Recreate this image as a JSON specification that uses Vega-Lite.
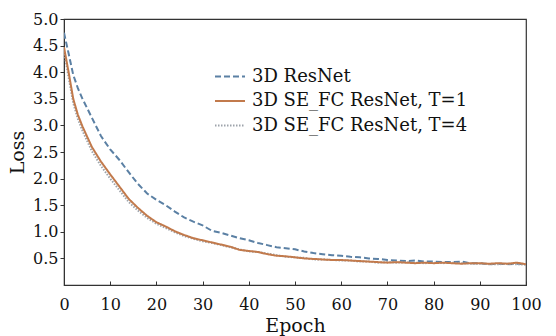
{
  "$schema": "https://vega.github.io/schema/vega-lite/v6.json",
  "width": 462,
  "height": 266,
  "autosize": {"type": "none"},
  "padding": {"left": 64, "top": 19, "right": 30, "bottom": 51},
  "background": "white",
  "config": {
    "font": "DejaVu Serif",
    "view": {"stroke": "#333333", "strokeWidth": 1.2},
    "axis": {"domainColor": "#333333", "tickColor": "#333333", "labelColor": "#111111", "titleColor": "#111111", "labelFont": "DejaVu Serif", "titleFont": "DejaVu Serif", "labelFontSize": 16, "titleFontSize": 19, "titleFontWeight": "normal", "grid": false, "labelFlush": false}
  },
  "datasets": {
    "loss": [
      {"epoch": 0, "s": "3D ResNet", "loss": 4.74},
      {"epoch": 1, "s": "3D ResNet", "loss": 4.35},
      {"epoch": 2, "s": "3D ResNet", "loss": 3.95},
      {"epoch": 3, "s": "3D ResNet", "loss": 3.7},
      {"epoch": 4, "s": "3D ResNet", "loss": 3.5},
      {"epoch": 6, "s": "3D ResNet", "loss": 3.15},
      {"epoch": 8, "s": "3D ResNet", "loss": 2.8},
      {"epoch": 10, "s": "3D ResNet", "loss": 2.55},
      {"epoch": 12, "s": "3D ResNet", "loss": 2.35},
      {"epoch": 14, "s": "3D ResNet", "loss": 2.12},
      {"epoch": 16, "s": "3D ResNet", "loss": 1.9},
      {"epoch": 18, "s": "3D ResNet", "loss": 1.72},
      {"epoch": 20, "s": "3D ResNet", "loss": 1.6},
      {"epoch": 22, "s": "3D ResNet", "loss": 1.5},
      {"epoch": 24, "s": "3D ResNet", "loss": 1.38},
      {"epoch": 26, "s": "3D ResNet", "loss": 1.27},
      {"epoch": 28, "s": "3D ResNet", "loss": 1.19},
      {"epoch": 30, "s": "3D ResNet", "loss": 1.12},
      {"epoch": 32, "s": "3D ResNet", "loss": 1.02},
      {"epoch": 34, "s": "3D ResNet", "loss": 0.98},
      {"epoch": 36, "s": "3D ResNet", "loss": 0.93},
      {"epoch": 38, "s": "3D ResNet", "loss": 0.88},
      {"epoch": 40, "s": "3D ResNet", "loss": 0.84},
      {"epoch": 42, "s": "3D ResNet", "loss": 0.79},
      {"epoch": 44, "s": "3D ResNet", "loss": 0.75},
      {"epoch": 46, "s": "3D ResNet", "loss": 0.71},
      {"epoch": 48, "s": "3D ResNet", "loss": 0.69},
      {"epoch": 50, "s": "3D ResNet", "loss": 0.67},
      {"epoch": 52, "s": "3D ResNet", "loss": 0.63},
      {"epoch": 54, "s": "3D ResNet", "loss": 0.6},
      {"epoch": 56, "s": "3D ResNet", "loss": 0.58},
      {"epoch": 58, "s": "3D ResNet", "loss": 0.56},
      {"epoch": 60, "s": "3D ResNet", "loss": 0.55},
      {"epoch": 62, "s": "3D ResNet", "loss": 0.53},
      {"epoch": 64, "s": "3D ResNet", "loss": 0.52},
      {"epoch": 66, "s": "3D ResNet", "loss": 0.5},
      {"epoch": 68, "s": "3D ResNet", "loss": 0.49},
      {"epoch": 70, "s": "3D ResNet", "loss": 0.47},
      {"epoch": 72, "s": "3D ResNet", "loss": 0.46},
      {"epoch": 74, "s": "3D ResNet", "loss": 0.45},
      {"epoch": 76, "s": "3D ResNet", "loss": 0.46},
      {"epoch": 78, "s": "3D ResNet", "loss": 0.44},
      {"epoch": 80, "s": "3D ResNet", "loss": 0.44},
      {"epoch": 82, "s": "3D ResNet", "loss": 0.43},
      {"epoch": 84, "s": "3D ResNet", "loss": 0.43},
      {"epoch": 86, "s": "3D ResNet", "loss": 0.44},
      {"epoch": 88, "s": "3D ResNet", "loss": 0.41},
      {"epoch": 90, "s": "3D ResNet", "loss": 0.41},
      {"epoch": 92, "s": "3D ResNet", "loss": 0.39},
      {"epoch": 94, "s": "3D ResNet", "loss": 0.4},
      {"epoch": 96, "s": "3D ResNet", "loss": 0.39},
      {"epoch": 98, "s": "3D ResNet", "loss": 0.4},
      {"epoch": 100, "s": "3D ResNet", "loss": 0.39},

      {"epoch": 0, "s": "3D SE_FC ResNet, T=4", "loss": 4.4},
      {"epoch": 1, "s": "3D SE_FC ResNet, T=4", "loss": 3.9},
      {"epoch": 2, "s": "3D SE_FC ResNet, T=4", "loss": 3.42},
      {"epoch": 3, "s": "3D SE_FC ResNet, T=4", "loss": 3.12},
      {"epoch": 4, "s": "3D SE_FC ResNet, T=4", "loss": 2.9},
      {"epoch": 6, "s": "3D SE_FC ResNet, T=4", "loss": 2.52},
      {"epoch": 8, "s": "3D SE_FC ResNet, T=4", "loss": 2.24},
      {"epoch": 10, "s": "3D SE_FC ResNet, T=4", "loss": 2.0},
      {"epoch": 12, "s": "3D SE_FC ResNet, T=4", "loss": 1.78},
      {"epoch": 14, "s": "3D SE_FC ResNet, T=4", "loss": 1.56},
      {"epoch": 16, "s": "3D SE_FC ResNet, T=4", "loss": 1.4},
      {"epoch": 18, "s": "3D SE_FC ResNet, T=4", "loss": 1.26},
      {"epoch": 20, "s": "3D SE_FC ResNet, T=4", "loss": 1.15},
      {"epoch": 22, "s": "3D SE_FC ResNet, T=4", "loss": 1.07},
      {"epoch": 24, "s": "3D SE_FC ResNet, T=4", "loss": 0.99},
      {"epoch": 26, "s": "3D SE_FC ResNet, T=4", "loss": 0.92},
      {"epoch": 28, "s": "3D SE_FC ResNet, T=4", "loss": 0.87},
      {"epoch": 30, "s": "3D SE_FC ResNet, T=4", "loss": 0.82},
      {"epoch": 32, "s": "3D SE_FC ResNet, T=4", "loss": 0.79},
      {"epoch": 34, "s": "3D SE_FC ResNet, T=4", "loss": 0.75},
      {"epoch": 36, "s": "3D SE_FC ResNet, T=4", "loss": 0.71},
      {"epoch": 38, "s": "3D SE_FC ResNet, T=4", "loss": 0.67},
      {"epoch": 40, "s": "3D SE_FC ResNet, T=4", "loss": 0.63},
      {"epoch": 42, "s": "3D SE_FC ResNet, T=4", "loss": 0.62},
      {"epoch": 44, "s": "3D SE_FC ResNet, T=4", "loss": 0.59},
      {"epoch": 46, "s": "3D SE_FC ResNet, T=4", "loss": 0.56},
      {"epoch": 48, "s": "3D SE_FC ResNet, T=4", "loss": 0.53},
      {"epoch": 50, "s": "3D SE_FC ResNet, T=4", "loss": 0.52},
      {"epoch": 52, "s": "3D SE_FC ResNet, T=4", "loss": 0.51},
      {"epoch": 54, "s": "3D SE_FC ResNet, T=4", "loss": 0.48},
      {"epoch": 56, "s": "3D SE_FC ResNet, T=4", "loss": 0.48},
      {"epoch": 58, "s": "3D SE_FC ResNet, T=4", "loss": 0.47},
      {"epoch": 60, "s": "3D SE_FC ResNet, T=4", "loss": 0.46},
      {"epoch": 62, "s": "3D SE_FC ResNet, T=4", "loss": 0.46},
      {"epoch": 64, "s": "3D SE_FC ResNet, T=4", "loss": 0.44},
      {"epoch": 66, "s": "3D SE_FC ResNet, T=4", "loss": 0.44},
      {"epoch": 68, "s": "3D SE_FC ResNet, T=4", "loss": 0.42},
      {"epoch": 70, "s": "3D SE_FC ResNet, T=4", "loss": 0.43},
      {"epoch": 72, "s": "3D SE_FC ResNet, T=4", "loss": 0.42},
      {"epoch": 74, "s": "3D SE_FC ResNet, T=4", "loss": 0.43},
      {"epoch": 76, "s": "3D SE_FC ResNet, T=4", "loss": 0.42},
      {"epoch": 78, "s": "3D SE_FC ResNet, T=4", "loss": 0.41},
      {"epoch": 80, "s": "3D SE_FC ResNet, T=4", "loss": 0.42},
      {"epoch": 82, "s": "3D SE_FC ResNet, T=4", "loss": 0.41},
      {"epoch": 84, "s": "3D SE_FC ResNet, T=4", "loss": 0.42},
      {"epoch": 86, "s": "3D SE_FC ResNet, T=4", "loss": 0.41},
      {"epoch": 88, "s": "3D SE_FC ResNet, T=4", "loss": 0.4},
      {"epoch": 90, "s": "3D SE_FC ResNet, T=4", "loss": 0.4},
      {"epoch": 92, "s": "3D SE_FC ResNet, T=4", "loss": 0.39},
      {"epoch": 94, "s": "3D SE_FC ResNet, T=4", "loss": 0.39},
      {"epoch": 96, "s": "3D SE_FC ResNet, T=4", "loss": 0.4},
      {"epoch": 98, "s": "3D SE_FC ResNet, T=4", "loss": 0.39},
      {"epoch": 100, "s": "3D SE_FC ResNet, T=4", "loss": 0.38},

      {"epoch": 0, "s": "3D SE_FC ResNet, T=1", "loss": 4.47},
      {"epoch": 1, "s": "3D SE_FC ResNet, T=1", "loss": 4.0},
      {"epoch": 2, "s": "3D SE_FC ResNet, T=1", "loss": 3.5},
      {"epoch": 3, "s": "3D SE_FC ResNet, T=1", "loss": 3.2},
      {"epoch": 4, "s": "3D SE_FC ResNet, T=1", "loss": 2.98},
      {"epoch": 6, "s": "3D SE_FC ResNet, T=1", "loss": 2.6},
      {"epoch": 8, "s": "3D SE_FC ResNet, T=1", "loss": 2.32},
      {"epoch": 10, "s": "3D SE_FC ResNet, T=1", "loss": 2.08},
      {"epoch": 12, "s": "3D SE_FC ResNet, T=1", "loss": 1.85},
      {"epoch": 14, "s": "3D SE_FC ResNet, T=1", "loss": 1.62},
      {"epoch": 16, "s": "3D SE_FC ResNet, T=1", "loss": 1.45},
      {"epoch": 18, "s": "3D SE_FC ResNet, T=1", "loss": 1.3},
      {"epoch": 20, "s": "3D SE_FC ResNet, T=1", "loss": 1.18},
      {"epoch": 22, "s": "3D SE_FC ResNet, T=1", "loss": 1.1},
      {"epoch": 24, "s": "3D SE_FC ResNet, T=1", "loss": 1.01},
      {"epoch": 26, "s": "3D SE_FC ResNet, T=1", "loss": 0.94},
      {"epoch": 28, "s": "3D SE_FC ResNet, T=1", "loss": 0.88},
      {"epoch": 30, "s": "3D SE_FC ResNet, T=1", "loss": 0.84},
      {"epoch": 32, "s": "3D SE_FC ResNet, T=1", "loss": 0.8},
      {"epoch": 34, "s": "3D SE_FC ResNet, T=1", "loss": 0.76},
      {"epoch": 36, "s": "3D SE_FC ResNet, T=1", "loss": 0.72},
      {"epoch": 38, "s": "3D SE_FC ResNet, T=1", "loss": 0.66},
      {"epoch": 40, "s": "3D SE_FC ResNet, T=1", "loss": 0.64},
      {"epoch": 42, "s": "3D SE_FC ResNet, T=1", "loss": 0.62},
      {"epoch": 44, "s": "3D SE_FC ResNet, T=1", "loss": 0.58},
      {"epoch": 46, "s": "3D SE_FC ResNet, T=1", "loss": 0.55},
      {"epoch": 48, "s": "3D SE_FC ResNet, T=1", "loss": 0.54},
      {"epoch": 50, "s": "3D SE_FC ResNet, T=1", "loss": 0.52},
      {"epoch": 52, "s": "3D SE_FC ResNet, T=1", "loss": 0.5},
      {"epoch": 54, "s": "3D SE_FC ResNet, T=1", "loss": 0.49},
      {"epoch": 56, "s": "3D SE_FC ResNet, T=1", "loss": 0.48},
      {"epoch": 58, "s": "3D SE_FC ResNet, T=1", "loss": 0.47},
      {"epoch": 60, "s": "3D SE_FC ResNet, T=1", "loss": 0.47},
      {"epoch": 62, "s": "3D SE_FC ResNet, T=1", "loss": 0.46},
      {"epoch": 64, "s": "3D SE_FC ResNet, T=1", "loss": 0.45},
      {"epoch": 66, "s": "3D SE_FC ResNet, T=1", "loss": 0.44},
      {"epoch": 68, "s": "3D SE_FC ResNet, T=1", "loss": 0.43},
      {"epoch": 70, "s": "3D SE_FC ResNet, T=1", "loss": 0.42},
      {"epoch": 72, "s": "3D SE_FC ResNet, T=1", "loss": 0.43},
      {"epoch": 74, "s": "3D SE_FC ResNet, T=1", "loss": 0.42},
      {"epoch": 76, "s": "3D SE_FC ResNet, T=1", "loss": 0.41},
      {"epoch": 78, "s": "3D SE_FC ResNet, T=1", "loss": 0.42},
      {"epoch": 80, "s": "3D SE_FC ResNet, T=1", "loss": 0.41},
      {"epoch": 82, "s": "3D SE_FC ResNet, T=1", "loss": 0.42},
      {"epoch": 84, "s": "3D SE_FC ResNet, T=1", "loss": 0.41},
      {"epoch": 86, "s": "3D SE_FC ResNet, T=1", "loss": 0.4},
      {"epoch": 88, "s": "3D SE_FC ResNet, T=1", "loss": 0.41},
      {"epoch": 90, "s": "3D SE_FC ResNet, T=1", "loss": 0.41},
      {"epoch": 92, "s": "3D SE_FC ResNet, T=1", "loss": 0.4},
      {"epoch": 94, "s": "3D SE_FC ResNet, T=1", "loss": 0.41},
      {"epoch": 96, "s": "3D SE_FC ResNet, T=1", "loss": 0.4},
      {"epoch": 98, "s": "3D SE_FC ResNet, T=1", "loss": 0.42},
      {"epoch": 100, "s": "3D SE_FC ResNet, T=1", "loss": 0.39}
    ]
  },
  "data": {"name": "loss"},
  "mark": {"type": "line", "strokeWidth": 2, "clip": true},
  "encoding": {
    "x": {
      "field": "epoch", "type": "quantitative",
      "scale": {"domain": [0, 100], "nice": false},
      "axis": {"values": [0, 10, 20, 30, 40, 50, 60, 70, 80, 90, 100], "format": "d", "title": "Epoch", "tickSize": -4, "labelPadding": 15, "titlePadding": 4}
    },
    "y": {
      "field": "loss", "type": "quantitative",
      "scale": {"domain": [0, 5], "nice": false},
      "axis": {"values": [0.5, 1, 1.5, 2, 2.5, 3, 3.5, 4, 4.5, 5], "format": ".1f", "title": "Loss", "tickSize": 4, "labelPadding": 2, "titlePadding": 5}
    },
    "color": {
      "field": "s", "type": "nominal",
      "scale": {"domain": ["3D ResNet", "3D SE_FC ResNet, T=1", "3D SE_FC ResNet, T=4"], "range": ["#5b80a4", "#c27a4c", "#9ea4ab"]},
      "legend": {"title": null, "orient": "none", "legendX": 150, "legendY": 46, "symbolType": "stroke", "symbolSize": 900, "symbolStrokeWidth": 2, "labelFont": "DejaVu Serif", "labelFontSize": 18, "labelColor": "#111111", "labelLimit": 400, "clipHeight": 23, "rowPadding": 1.5, "labelOffset": 6, "padding": 0}
    },
    "strokeDash": {
      "field": "s", "type": "nominal",
      "scale": {"domain": ["3D ResNet", "3D SE_FC ResNet, T=1", "3D SE_FC ResNet, T=4"], "range": [[6, 3], [1, 0], [1.5, 1.5]]},
      "legend": {"title": null, "orient": "none", "legendX": 150, "legendY": 46, "symbolType": "stroke", "symbolSize": 900, "symbolStrokeWidth": 2, "labelFont": "DejaVu Serif", "labelFontSize": 18, "labelColor": "#111111", "labelLimit": 400, "clipHeight": 23, "rowPadding": 1.5, "labelOffset": 6, "padding": 0}
    },
    "order": {"field": "epoch", "type": "quantitative"}
  }
}
